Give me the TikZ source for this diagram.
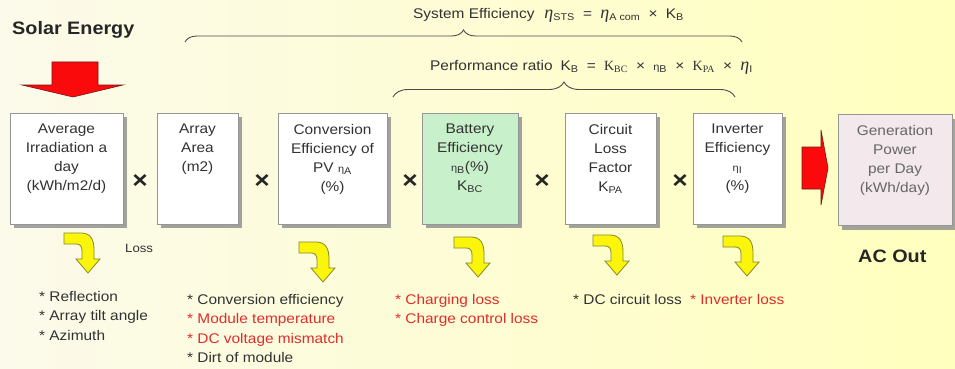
\documentclass[tikz,border=0pt]{standalone}
\usepackage{fontspec}
\setmainfont{Liberation Sans}[FakeStretch=1.1]
\newfontfamily\seriffont{Liberation Serif}
\usetikzlibrary{positioning,shadows,decorations.pathreplacing}

\definecolor{bgleft}{RGB}{252,250,234}
\definecolor{bgright}{RGB}{255,255,190}
\definecolor{boxline}{RGB}{150,150,150}
\definecolor{battgreen}{RGB}{200,240,202}
\definecolor{genpink}{RGB}{243,232,236}
\definecolor{lossred}{RGB}{222,45,45}
\definecolor{arrowred}{RGB}{250,10,10}
\definecolor{arrowedge}{RGB}{120,20,20}
\definecolor{hookyellow}{RGB}{250,245,10}
\definecolor{hookline}{RGB}{135,135,45}
\definecolor{txtgray}{RGB}{50,50,50}

\tikzset{
  factor/.style={draw=boxline, fill=white, minimum height=111pt, inner sep=0pt,
    drop shadow={shadow xshift=4pt, shadow yshift=-4pt, fill=black!45, opacity=0.8}},
  factortext/.style={inner sep=0pt, align=center, text=txtgray,
    font=\fontsize{14}{19}\selectfont},
  timessign/.style={inner sep=0pt, font=\fontsize{24}{24}\selectfont\bfseries, text=black!85},
  losslist/.style={anchor=north west, inner sep=0pt, align=left, text=txtgray,
    font=\fontsize{14}{19.5}\selectfont},
  heading/.style={anchor=west, inner sep=0pt, text=black!85,
    font=\fontsize{18}{18}\selectfont\bfseries},
  formula/.style={anchor=west, inner sep=0pt, text=txtgray,
    font=\fontsize{14}{14}\selectfont},
  effbrace/.style={draw=black!70, line width=0.9pt, decorate,
    decoration={brace, amplitude=#1}},
  blockarrow/.style={fill=arrowred, draw=arrowedge, line width=0.6pt},
  hook/.pic={
    \filldraw[fill=hookyellow, draw=hookline, line width=0.8pt]
      (0,0) -- (17,0) .. controls (27,0) and (30,7) .. (30,17) -- (30,26)
      -- (36,26) -- (24,40) -- (12,26) -- (18,26) -- (18,18)
      .. controls (18,13) and (16,11) .. (12,11) -- (0,11) -- cycle;
  }
}

\newcommand{\bigeta}{{\seriffont\itshape\fontsize{18}{18}\selectfont η}}
\newcommand{\smalleta}{{\fontsize{10}{10}\selectfont η}}
\newcommand{\op}[1]{\hspace{4pt}#1\hspace{4pt}}

\begin{document}
\begin{tikzpicture}[x=1pt, y=-1pt]
  \useasboundingbox (0,0) rectangle (955,369);
  \fill[left color=bgleft, right color=bgright] (0,0) rectangle (955,369);

  % title and solar input
  \node[heading] (solar) at (12,30) {Solar Energy};
  \draw[blockarrow] (52,62) -- (98,62) -- (98,85) -- (123,85) -- (73,97)
    -- (22,85) -- (52,85) -- cycle;

  % efficiency braces
  \node[formula] (systext) at (413,15) {System Efficiency\hspace{10pt}\bigeta\textsubscript{STS}
    \op{=} \bigeta\textsubscript{A com} \op{×} K\textsubscript{B}};
  \draw[effbrace=12pt] (185,42) -- (742,42);
  \node[formula] (perftext) at (430,67) {Performance ratio\hspace{8pt}K\textsubscript{B}
    \op{=} {\seriffont K\textsubscript{BC}} \op{×} \smalleta\textsubscript{B} \op{×}
    {\seriffont K\textsubscript{PA}} \op{×} \bigeta\textsubscript{I}};
  \draw[effbrace=15pt] (393,97) -- (735,97);

  % factor boxes
  \node[factor, minimum width=113pt] (irr) at (66.5,168.5) {};
  \node[factor, minimum width=81pt] (area) at (197.5,168.5) {};
  \node[factor, minimum width=109pt] (conv) at (332.5,168.5) {};
  \node[factor, minimum width=96pt, fill=battgreen] (batt) at (470,168.5) {};
  \node[factor, minimum width=91pt] (circ) at (610.5,168.5) {};
  \node[factor, minimum width=89pt] (inv) at (737.5,168.5) {};
  \node[factor, minimum width=114pt, fill=genpink] (gen) at (895,170) {};

  \node[factortext, below=11pt of irr.north] (irrtext) {Average\\Irradiation a\\day\\(kWh/m2/d)};
  \node[factortext, below=11pt of area.north] (areatext) {Array\\Area\\(m2)};
  \node[factortext, below=11pt of conv.north] (convtext) {Conversion\\Efficiency of\\PV \smalleta\textsubscript{A}\\(\%)};
  \node[factortext, below=11pt of batt.north] (batttext) {Battery\\Efficiency\\\smalleta\textsubscript{B}(\%)\\K\textsubscript{BC}};
  \node[factortext, below=11pt of circ.north] (circtext) {Circuit\\Loss\\Factor\\K\textsubscript{PA}};
  \node[factortext, below=11pt of inv.north] (invtext) {Inverter\\Efficiency\\\smalleta\textsubscript{I}\\(\%)};
  \node[factortext, text=black!60, below=11pt of gen.north] (gentext) {Generation\\Power\\per Day\\(kWh/day)};

  % multiplication signs
  \node[timessign] (t1) at (140,182) {×};
  \node[timessign] (t2) at (262,182) {×};
  \node[timessign] (t3) at (410,182) {×};
  \node[timessign] (t4) at (542,182) {×};
  \node[timessign] (t5) at (680,182) {×};

  % output
  \draw[blockarrow] (802,147) -- (821,147) -- (821,130) -- (828,168) -- (821,205)
    -- (821,189) -- (802,189) -- cycle;
  \node[heading] (acout) at (858,256) {AC Out};

  % losses
  \pic at (64,233) {hook};
  \pic at (299,242) {hook};
  \pic at (454,237) {hook};
  \pic at (593,235) {hook};
  \pic at (723,236) {hook};
  \node[formula, font=\fontsize{12}{12}\selectfont] (losstext) at (125,248) {Loss};

  \node[losslist] (irrloss) at (39,291) {* Reflection\\* Array tilt angle\\* Azimuth};
  \node[losslist] (convloss) at (187,294) {* Conversion efficiency\\
    \textcolor{lossred}{* Module temperature}\\
    \textcolor{lossred}{* DC voltage mismatch}\\* Dirt of module};
  \node[losslist, text=lossred] (battloss) at (395,294) {* Charging loss\\* Charge control loss};
  \node[losslist] (circloss) at (573,294) {* DC circuit loss};
  \node[losslist, text=lossred] (invloss) at (690,294) {* Inverter loss};
\end{tikzpicture}
\end{document}
